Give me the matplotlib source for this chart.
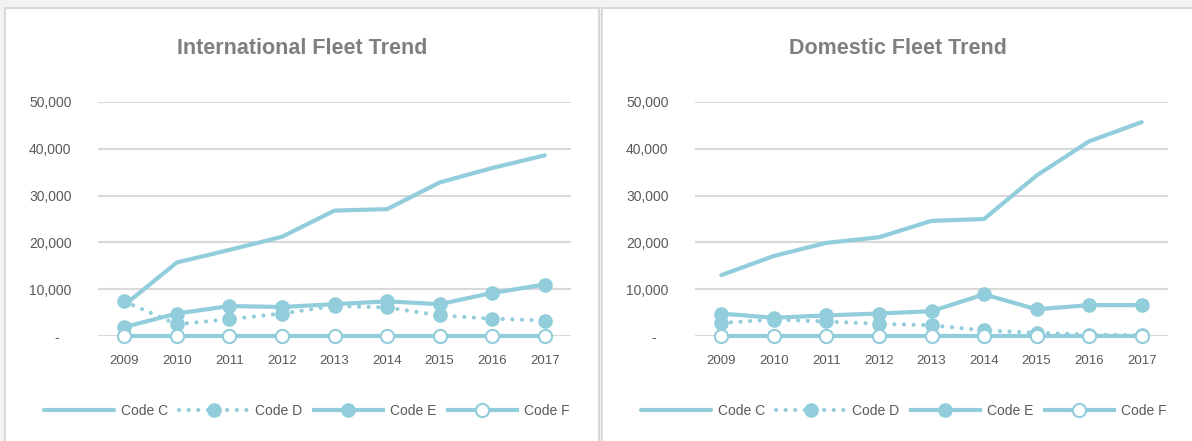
import matplotlib
matplotlib.use("Agg")
import matplotlib.pyplot as plt
from matplotlib.patches import Rectangle
from matplotlib.ticker import FuncFormatter

plt.rcParams['font.family'] = ['Liberation Sans', 'DejaVu Sans']

YEARS = ["2009", "2010", "2011", "2012", "2013", "2014", "2015", "2016", "2017"]
SERIES = ["Code C", "Code D", "Code E", "Code F"]

# International fleet
INTL_C = [6600, 15700, 18400, 21200, 26800, 27100, 32800, 35900, 38600]
INTL_D = [7400, 2500, 3600, 4800, 6400, 6100, 4400, 3700, 3300]
INTL_E = [1900, 4800, 6400, 6200, 6800, 7400, 6800, 9200, 11000]
INTL_F = [0, 0, 0, 0, 0, 0, 0, 0, 0]

# Domestic fleet
DOM_C = [13000, 17100, 19900, 21100, 24600, 25000, 34300, 41600, 45700]
DOM_D = [2800, 3500, 3100, 2600, 2300, 1200, 700, 300, 150]
DOM_E = [4800, 3900, 4400, 4800, 5300, 8900, 5700, 6600, 6600]
DOM_F = [0, 0, 0, 0, 0, 0, 0, 0, 0]

BLUE = "#92cddc"
GRID = "#d9d9d9"
W, H = 1192, 441

fig = plt.figure(figsize=(W / 100, H / 100), dpi=100)
fig.patch.set_facecolor("#f2f2f2")

# white chart panels
for x0, x1 in [(5, 599), (602, 1200)]:
    fig.patches.append(Rectangle((x0 / W, -0.05), (x1 - x0) / W, 1.05 - 8 / H,
                                 transform=fig.transFigure, facecolor="white",
                                 edgecolor=GRID, linewidth=1.5, zorder=-5))


def yfmt(v, pos):
    if v == 0:
        return "-   "
    return f"{int(v):,}"


def draw_panel(left, title, title_x, legend_x, c, d, e, f):
    ax = fig.add_axes([left / W, 1 - 336 / H, 473 / W, 234 / H])
    ax.set_facecolor("none")
    x = range(len(YEARS))
    lw = 3.0
    ms = 9.5
    ax.plot(x, c, color=BLUE, lw=lw, solid_capstyle="round", label=SERIES[0], clip_on=False, zorder=3)
    ax.plot(x, d, color=BLUE, lw=lw, linestyle=(0, (0.01, 2.3)), dash_capstyle="round",
            marker="o", ms=ms, mfc=BLUE, mec=BLUE, label=SERIES[1], clip_on=False, zorder=3)
    ax.plot(x, e, color=BLUE, lw=lw, marker="o", ms=ms, mfc=BLUE, mec=BLUE,
            label=SERIES[2], clip_on=False, zorder=3)
    ax.plot(x, f, color=BLUE, lw=lw, marker="o", ms=ms, mfc="white", mec=BLUE, mew=1.5,
            label=SERIES[3], clip_on=False, zorder=4)

    ax.set_xlim(-0.5, len(YEARS) - 0.5)
    ax.set_ylim(0, 50000)
    ax.set_yticks(range(0, 50001, 10000))
    ax.yaxis.set_major_formatter(FuncFormatter(yfmt))
    ax.set_xticks(list(x))
    ax.set_xticklabels(YEARS)
    ax.grid(axis="y", color=GRID, lw=1.5)
    ax.set_axisbelow(True)
    for s in ax.spines.values():
        s.set_visible(False)
    ax.tick_params(axis="y", length=0, pad=19, labelsize=10, labelcolor="#595959")
    ax.tick_params(axis="x", length=0, pad=14, labelsize=9.5, labelcolor="#595959")

    fig.text(title_x / W, 1 - 48 / H, title, ha="center", va="center",
             fontsize=15.5, fontweight="bold", color="#7f7f7f")

    handles, labels = ax.get_legend_handles_labels()
    fig.legend(handles, labels, loc="center", bbox_to_anchor=(legend_x / W, 1 - 411 / H),
               ncol=4, frameon=False, fontsize=10, handlelength=5.0, handletextpad=0.5,
               columnspacing=0.8, numpoints=1, labelcolor="#595959")


draw_panel(98, "International Fleet Trend", 302, 307, INTL_C, INTL_D, INTL_E, INTL_F)
draw_panel(695, "Domestic Fleet Trend", 898, 904, DOM_C, DOM_D, DOM_E, DOM_F)

fig.savefig("out.png", dpi=100, facecolor=fig.get_facecolor())
